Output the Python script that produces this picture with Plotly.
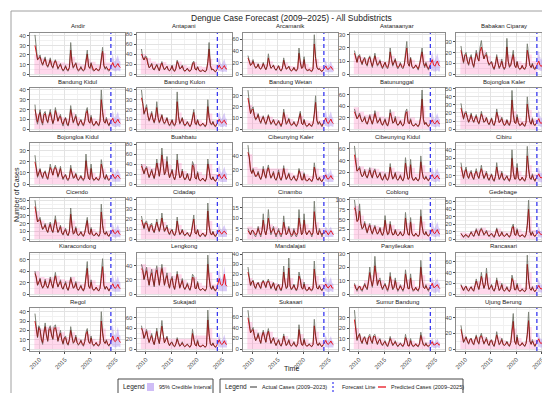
import numpy as np
import plotly.graph_objects as go

# ---------------- data ----------------
districts = ["Andir", "Antapani", "Arcamanik", "Astanaanyar", "Babakan Ciparay",
             "Bandung Kidul", "Bandung Kulon", "Bandung Wetan", "Batununggal", "Bojongloa Kaler",
             "Bojongloa Kidul", "Buahbatu", "Cibeunying Kaler", "Cibeunying Kidul", "Cibiru",
             "Cicendo", "Cidadap", "Cinambo", "Coblong", "Gedebage",
             "Kiaracondong", "Lengkong", "Mandalajati", "Panyileukan", "Rancasari",
             "Regol", "Sukajadi", "Sukasari", "Sumur Bandung", "Ujung Berung"]

# quarterly actual cases 2009Q1-2023Q4 (60), predicted 2009Q1-2025Q4 (68),
# yearly upper credible bound 2009-2023 (15), forecast interval 2024Q1-2025Q4 (8)
act_andir = [41,24,15,17, 20,13,9,14, 18,10,7,11, 17,9,6,12, 15,11,5,8, 11,6,3,5, 9,4,3,7, 33,13,6,9, 12,6,3,4, 8,4,3,5, 17,25,8,6, 12,5,3,4, 6,4,3,6, 18,28,9,5, 8,4,3,5]
pred_andir = [30,22,15,16, 18,13,10,13, 16,10,8,11, 15,9,7,11, 14,10,6,8, 10,6,4,5, 8,5,4,7, 25,13,7,9, 11,6,4,5, 7,5,4,5, 15,21,8,6, 11,6,4,4, 6,4,4,6, 16,24,9,6, 7,5,4,6, 9,12,8,7, 9,11,8,7]
band_andir = [20,17,15,14,14,12,11,18,12,10,16,13,10,22,12]
flo_andir = [3,4,3,3,3,4,3,3]
fhi_andir = [16,21,14,13,17,20,14,13]

act_antapani = [50,32,28,36, 35,20,12,15, 22,10,8,14, 20,12,6,18, 25,14,8,12, 16,8,6,10, 18,7,5,12, 28,20,10,12, 18,8,5,8, 12,6,5,9, 22,26,10,8, 15,7,5,6, 8,6,4,8, 25,63,18,8, 10,6,4,8]
pred_antapani = [40,32,28,33, 32,20,13,15, 20,11,9,14, 18,12,7,16, 22,14,9,12, 15,9,7,10, 16,8,6,11, 25,19,11,12, 16,9,6,8, 11,7,6,9, 20,23,10,8, 14,8,6,6, 8,6,5,8, 22,50,17,9, 10,7,5,8, 14,18,12,10, 13,17,11,10]
band_antapani = [40,32,25,22,24,18,18,25,18,15,24,16,14,30,18]
flo_antapani = [5,6,5,4,4,5,4,4]
fhi_antapani = [26,32,22,18,25,30,20,18]

act_arcamanik = [32,22,15,18, 25,15,10,12, 18,10,8,12, 20,12,7,14, 35,18,10,12, 16,9,6,10, 15,7,5,10, 28,16,8,10, 14,7,5,7, 12,6,5,10, 45,22,10,12, 30,10,6,6, 8,5,4,9, 68,30,12,8, 10,6,4,7]
pred_arcamanik = [28,22,15,17, 22,15,11,12, 17,10,9,12, 18,12,8,13, 28,17,10,12, 15,9,7,10, 14,8,6,10, 24,15,9,10, 13,8,6,7, 11,7,6,10, 36,20,10,11, 25,10,7,6, 8,6,5,9, 52,27,12,8, 9,6,5,7, 12,14,9,8, 11,13,9,7]
band_arcamanik = [24,20,18,18,22,15,14,20,14,13,22,18,12,26,14]
flo_arcamanik = [3,4,3,3,3,4,3,3]
fhi_arcamanik = [20,24,16,14,18,22,15,13]

act_astanaanyar = [18,12,9,14, 15,10,7,11, 13,8,6,12, 14,9,5,10, 16,10,6,8, 11,6,4,7, 9,5,4,8, 20,12,6,9, 12,6,4,6, 9,5,4,7, 15,25,8,6, 13,6,4,5, 7,5,3,7, 14,20,9,5, 9,5,3,6]
pred_astanaanyar = [16,12,9,13, 14,10,8,11, 12,8,7,11, 13,9,6,10, 14,10,7,8, 10,7,5,7, 9,6,5,8, 17,11,7,9, 11,7,5,6, 8,6,5,7, 14,20,8,6, 12,6,5,5, 7,5,4,7, 13,17,9,6, 8,5,4,6, 9,11,7,6, 8,10,7,6]
band_astanaanyar = [14,13,12,12,13,10,9,14,10,8,16,11,8,15,10]
flo_astanaanyar = [2,3,2,2,2,3,2,2]
fhi_astanaanyar = [14,17,12,10,13,16,11,10]

act_babakan_ciparay = [26,15,10,18, 20,12,8,15, 18,10,6,14, 22,15,12,25, 31,20,14,18, 20,12,8,10, 12,6,4,9, 18,10,5,8, 14,6,4,7, 33,12,6,8, 15,22,8,6, 12,6,4,5, 8,5,4,7, 28,16,8,6, 10,5,4,7]
pred_babakan_ciparay = [22,15,11,17, 18,12,9,14, 16,10,7,13, 19,15,12,21, 25,19,14,17, 18,12,9,10, 11,7,5,9, 16,10,6,8, 12,7,5,7, 25,12,7,8, 14,18,8,6, 11,6,5,5, 8,5,5,7, 22,15,8,6, 9,6,5,7, 10,12,8,7, 9,11,8,6]
band_babakan_ciparay = [18,16,15,20,22,17,11,14,11,18,16,12,10,18,12]
flo_babakan_ciparay = [3,4,3,3,3,4,3,3]
fhi_babakan_ciparay = [17,22,15,13,18,21,14,13]

act_bandung_kidul = [25,10,5,15, 20,8,4,16, 18,10,6,14, 20,12,5,10, 22,15,8,12, 15,7,3,9, 12,5,3,10, 24,14,6,10, 15,6,3,7, 10,5,3,8, 18,22,8,6, 14,6,3,5, 8,5,3,8, 40,18,8,6, 12,6,3,7]
pred_bandung_kidul = [20,11,7,14, 17,9,6,14, 16,10,7,13, 17,11,6,10, 19,14,8,12, 13,7,5,9, 11,6,4,9, 20,13,7,10, 13,7,4,7, 9,6,4,8, 16,19,8,6, 12,6,4,5, 8,5,4,8, 30,17,8,6, 10,6,4,7, 9,11,7,6, 8,10,7,6]
band_bandung_kidul = [16,15,15,15,17,12,11,17,12,9,16,11,9,20,11]
flo_bandung_kidul = [2,3,2,2,2,3,2,2]
fhi_bandung_kidul = [15,19,13,11,15,18,12,11]

act_bandung_kulon = [40,28,15,20, 25,14,8,12, 18,10,6,12, 28,12,6,10, 15,8,5,8, 12,6,3,6, 10,4,3,7, 38,14,5,8, 12,5,3,5, 8,4,2,5, 15,20,6,4, 10,4,3,4, 6,4,2,5, 30,12,6,4, 8,4,2,5]
pred_bandung_kulon = [32,26,16,19, 22,14,9,12, 16,10,7,12, 22,12,7,10, 14,8,6,8, 11,6,4,6, 9,5,4,7, 28,13,6,8, 11,6,4,5, 7,5,3,5, 13,17,6,5, 9,5,4,4, 6,4,3,5, 23,12,6,5, 7,4,3,5, 8,10,7,6, 8,9,6,5]
band_bandung_kulon = [22,17,14,16,12,10,9,17,10,8,14,9,7,16,9]
flo_bandung_kulon = [2,3,2,2,2,3,2,2]
fhi_bandung_kulon = [14,18,12,10,14,17,11,10]

act_bandung_wetan = [35,22,14,18, 20,12,8,10, 14,8,5,9, 12,7,4,8, 13,8,4,6, 9,5,3,5, 8,4,2,6, 18,10,4,6, 10,5,3,4, 7,4,2,5, 12,16,5,4, 9,4,2,3, 5,3,2,5, 14,30,8,4, 7,4,2,5]
pred_bandung_wetan = [28,21,14,17, 18,12,9,10, 13,8,6,9, 11,7,5,8, 12,8,5,6, 8,5,4,5, 7,5,3,6, 15,10,5,6, 9,5,4,4, 6,4,3,5, 11,14,5,4, 8,4,3,3, 5,3,3,5, 13,24,8,5, 6,4,3,5, 8,10,6,5, 7,9,6,5]
band_bandung_wetan = [22,15,12,11,11,9,8,13,9,7,12,8,7,16,8]
flo_bandung_wetan = [2,3,2,2,2,3,2,2]
fhi_bandung_wetan = [13,17,11,10,13,16,11,9]

act_batununggal = [35,25,18,22, 28,18,12,15, 22,12,8,16, 25,15,8,18, 32,20,10,14, 20,10,6,12, 18,8,5,14, 34,22,10,12, 22,10,6,9, 15,7,5,10, 30,35,12,9, 18,8,5,6, 10,6,4,9, 25,68,18,8, 12,6,4,8]
pred_batununggal = [30,25,18,21, 25,18,13,15, 20,12,9,15, 22,15,9,17, 27,19,11,14, 18,10,7,12, 16,9,6,13, 28,21,11,12, 19,10,7,9, 14,8,6,10, 26,30,12,9, 16,8,6,6, 9,6,5,9, 22,52,17,8, 11,7,5,8, 13,16,11,9, 12,15,10,9]
band_batununggal = [38,30,25,26,30,22,20,30,22,18,32,20,15,40,20]
flo_batununggal = [4,5,4,3,3,5,4,3]
fhi_batununggal = [24,30,20,17,23,28,19,17]

act_bojongloa_kaler = [32,18,12,20, 22,14,8,12, 20,12,8,14, 18,10,6,12, 22,14,8,10, 15,8,5,9, 14,6,4,10, 25,16,8,10, 15,7,4,6, 12,6,4,10, 48,20,8,7, 18,8,4,5, 8,5,3,8, 40,20,9,6, 14,6,4,7]
pred_bojongloa_kaler = [26,18,13,19, 20,14,9,12, 18,12,9,13, 16,10,7,12, 19,14,9,10, 14,8,6,9, 13,7,5,10, 21,15,8,10, 13,8,5,6, 11,7,5,10, 36,18,8,7, 15,8,5,5, 8,5,4,8, 31,18,9,6, 12,6,5,7, 10,13,8,7, 9,12,8,7]
band_bojongloa_kaler = [22,18,16,15,17,12,11,17,12,11,22,14,10,24,13]
flo_bojongloa_kaler = [3,4,3,3,3,4,3,3]
fhi_bojongloa_kaler = [18,24,16,13,17,22,15,13]

act_bojongloa_kidul = [26,12,6,10, 14,8,5,10, 12,6,4,10, 18,12,8,14, 17,12,6,10, 16,8,4,7, 9,4,3,6, 17,10,5,6, 10,5,3,5, 8,4,3,6, 27,12,5,4, 18,6,3,4, 6,4,3,6, 22,14,6,4, 9,4,3,5]
pred_bojongloa_kidul = [20,12,7,10, 13,8,6,10, 11,7,5,10, 15,12,8,13, 15,12,7,10, 14,8,5,7, 8,5,4,6, 14,10,6,6, 9,5,4,5, 7,5,4,6, 21,11,5,4, 14,6,4,4, 6,4,4,6, 18,13,6,5, 8,5,4,5, 7,9,6,5, 7,8,6,5]
band_bojongloa_kidul = [14,11,10,14,14,11,8,12,8,7,14,10,7,14,8]
flo_bojongloa_kidul = [2,2,2,2,2,2,2,2]
fhi_bojongloa_kidul = [12,15,10,9,12,14,10,9]

act_buahbatu = [40,28,20,30, 35,22,12,20, 30,18,10,25, 50,30,15,35, 72,40,18,25, 55,25,12,20, 30,15,8,18, 60,30,12,15, 30,14,8,12, 22,10,6,14, 45,38,12,10, 25,10,6,8, 12,8,5,12, 50,30,12,8, 15,8,5,10]
pred_buahbatu = [36,28,21,29, 32,22,14,20, 27,18,12,24, 42,30,16,32, 58,38,19,25, 45,24,13,20, 27,15,9,18, 48,28,13,15, 26,14,9,12, 20,11,7,14, 38,33,12,10, 22,10,7,8, 12,8,6,12, 40,28,12,9, 14,8,6,10, 16,20,13,11, 15,19,12,10]
band_buahbatu = [40,35,32,42,50,38,28,42,26,22,40,24,18,40,20]
flo_buahbatu = [4,6,4,4,4,5,4,4]
fhi_buahbatu = [30,38,25,22,28,35,24,21]

act_cibeunying_kaler = [55,40,20,15, 22,14,10,12, 18,10,6,12, 25,14,8,20, 27,15,8,12, 18,8,5,10, 20,8,5,12, 26,14,6,10, 16,7,5,8, 12,6,4,9, 22,15,6,6, 16,6,4,5, 8,5,3,8, 30,16,7,5, 10,5,3,7]
pred_cibeunying_kaler = [45,38,20,15, 20,14,11,12, 16,10,7,12, 21,14,9,18, 23,15,9,12, 16,8,6,10, 17,9,6,11, 22,14,7,10, 14,8,6,8, 11,7,5,9, 19,14,6,6, 14,6,5,5, 8,5,4,8, 24,15,7,6, 9,5,4,7, 10,13,8,7, 9,12,8,7]
band_cibeunying_kaler = [42,24,22,22,22,22,22,22,16,13,18,14,11,22,12]
flo_cibeunying_kaler = [3,4,3,3,3,4,3,3]
fhi_cibeunying_kaler = [18,23,15,13,17,21,14,13]

act_cibeunying_kidul = [65,40,22,25, 30,18,12,15, 25,14,10,18, 28,16,10,22, 26,16,10,14, 20,10,6,12, 18,8,6,12, 35,18,8,12, 20,9,6,10, 16,8,5,12, 45,20,8,10, 42,12,6,7, 12,7,5,10, 48,22,10,8, 14,8,5,10]
pred_cibeunying_kidul = [50,38,22,24, 27,18,13,15, 22,14,11,17, 24,16,11,20, 23,16,11,14, 18,10,7,12, 16,9,7,12, 29,17,9,12, 18,9,7,10, 14,8,6,12, 36,19,8,10, 33,12,7,7, 11,7,6,10, 38,21,10,8, 12,8,6,10, 13,16,11,9, 12,15,10,9]
band_cibeunying_kidul = [45,30,26,28,26,22,20,28,22,20,30,28,18,32,20]
flo_cibeunying_kidul = [4,5,4,3,3,5,4,3]
fhi_cibeunying_kidul = [24,30,20,17,23,28,19,17]

act_cibiru = [25,12,6,15, 20,10,6,12, 16,8,5,12, 18,10,6,14, 22,12,6,10, 15,7,4,8, 12,5,3,9, 25,12,5,8, 15,6,4,7, 10,5,3,8, 40,15,6,6, 24,7,4,5, 8,5,3,8, 44,18,7,5, 12,6,3,7]
pred_cibiru = [20,12,7,14, 17,10,7,12, 14,8,6,12, 15,10,7,13, 18,12,7,10, 13,7,5,8, 11,6,4,9, 20,12,6,8, 13,7,5,7, 9,6,4,8, 30,14,6,6, 19,7,5,5, 8,5,4,8, 33,17,7,6, 10,6,4,7, 9,12,8,7, 9,11,7,6]
band_cibiru = [16,15,13,14,16,12,10,16,12,10,20,15,10,22,12]
flo_cibiru = [2,3,2,2,2,3,2,2]
fhi_cibiru = [16,20,14,12,15,19,13,12]

act_cicendo = [50,35,22,25, 28,18,12,15, 20,12,8,16, 22,12,8,18, 30,16,8,12, 18,8,5,10, 14,6,4,10, 40,18,6,8, 16,7,4,6, 10,5,3,8, 22,28,8,6, 15,6,4,5, 8,5,3,7, 45,18,8,6, 10,5,3,7]
pred_cicendo = [42,33,22,24, 25,18,13,15, 18,12,9,15, 19,12,9,17, 25,16,9,12, 16,8,6,10, 12,7,5,10, 32,17,7,8, 14,7,5,6, 9,6,4,8, 19,24,8,6, 13,6,5,5, 8,5,4,7, 35,17,8,6, 9,5,4,7, 9,12,8,7, 9,11,7,6]
band_cicendo = [36,24,20,20,22,16,13,24,14,10,20,13,9,26,11]
flo_cicendo = [2,3,2,2,2,3,2,2]
fhi_cicendo = [16,20,14,12,15,19,13,12]

act_cidadap = [23,15,10,17, 18,12,7,14, 16,9,6,12, 20,12,7,14, 26,14,7,10, 14,7,4,8, 10,5,3,7, 22,10,4,6, 10,5,3,5, 7,4,2,6, 14,24,6,5, 10,4,2,4, 6,4,2,5, 36,14,6,4, 8,4,2,5]
pred_cidadap = [19,15,11,16, 16,12,8,13, 14,9,7,12, 17,12,8,13, 21,14,8,10, 12,7,5,8, 9,5,4,7, 18,10,5,6, 9,5,4,5, 6,4,3,6, 12,20,6,5, 9,4,3,4, 6,4,3,5, 28,13,6,4, 7,4,3,5, 7,9,6,5, 7,8,6,5]
band_cidadap = [16,15,13,15,17,11,8,14,9,7,14,9,7,18,8]
flo_cidadap = [2,2,2,2,2,2,2,2]
fhi_cidadap = [12,15,10,9,12,14,10,9]

act_cinambo = [5,3,2,4, 4,2,1,3, 6,3,1,4, 12,4,2,5, 14,6,2,4, 6,3,1,3, 5,2,1,3, 11,5,2,3, 6,3,1,2, 5,2,1,3, 14,6,2,3, 12,4,2,3, 4,3,1,3, 18,8,3,2, 5,3,1,3]
pred_cinambo = [4,3,2,4, 4,3,2,3, 5,3,2,4, 9,4,2,5, 10,6,3,4, 5,3,2,3, 4,3,2,3, 8,5,2,3, 5,3,2,2, 4,3,2,3, 10,6,2,3, 9,4,2,3, 4,3,2,3, 13,7,3,2, 4,3,2,3, 3,4,3,2, 3,4,3,2]
band_cinambo = [6,5,6,7,7,6,5,6,5,5,7,7,5,8,5]
flo_cinambo = [1,1,1,1,1,1,1,1]
fhi_cinambo = [5,6,5,4,5,6,4,4]

act_coblong = [100,75,45,50, 90,40,25,30, 45,25,15,30, 40,22,12,25, 35,20,12,18, 30,15,8,20, 60,25,10,15, 45,20,10,12, 25,12,8,12, 20,10,8,15, 68,30,12,10, 55,15,8,8, 15,10,6,12, 75,35,15,10, 20,10,7,12]
pred_coblong = [80,70,45,48, 72,40,27,30, 40,25,17,28, 35,22,14,24, 31,20,13,18, 27,15,10,19, 48,24,12,15, 38,20,11,12, 22,12,9,12, 18,11,9,15, 54,28,12,10, 44,15,9,8, 15,10,7,12, 58,32,15,11, 18,10,8,12, 20,25,16,14, 19,24,15,13]
band_coblong = [85,60,40,36,34,30,40,36,26,22,42,40,20,45,24]
flo_coblong = [6,8,6,5,5,7,5,5]
fhi_coblong = [38,48,32,27,36,44,30,26]

act_gedebage = [8,4,2,5, 6,3,2,6, 10,6,3,8, 14,8,4,12, 15,10,5,8, 12,6,3,6, 8,4,2,7, 15,8,3,5, 10,5,3,5, 8,4,2,6, 16,20,6,5, 14,6,3,4, 6,4,2,6, 20,52,10,5, 10,5,3,6]
pred_gedebage = [7,4,3,5, 6,4,3,6, 9,6,4,8, 12,8,5,11, 13,10,6,8, 10,6,4,6, 7,5,3,7, 13,8,4,5, 9,5,4,5, 7,5,3,6, 14,17,6,5, 12,6,4,4, 6,4,3,6, 18,40,10,5, 9,5,4,6, 8,10,7,6, 7,9,6,6]
band_gedebage = [9,8,11,14,15,12,9,14,10,9,16,13,9,30,12]
flo_gedebage = [2,2,2,2,2,2,2,2]
fhi_gedebage = [13,17,11,10,13,16,11,10]

act_kiaracondong = [40,30,15,20, 28,16,10,14, 26,15,10,18, 30,18,10,24, 38,22,12,18, 25,12,8,15, 22,10,6,15, 30,20,10,12, 22,10,6,10, 16,8,5,12, 35,57,14,10, 25,10,6,8, 12,7,5,10, 30,62,16,8, 14,8,5,10]
pred_kiaracondong = [36,30,16,20, 26,16,11,14, 23,15,11,17, 26,18,11,22, 32,21,13,18, 22,12,9,15, 19,11,7,14, 27,19,11,12, 19,10,7,10, 14,9,6,12, 30,45,14,10, 21,10,7,8, 12,7,6,10, 27,48,15,9, 13,8,6,10, 14,18,12,10, 13,17,11,10]
band_kiaracondong = [40,30,28,30,32,26,24,30,22,18,34,24,16,36,20]
flo_kiaracondong = [4,5,4,4,4,5,4,4]
fhi_kiaracondong = [28,34,24,20,26,32,22,20]

act_lengkong = [42,35,20,28, 38,22,12,25, 35,20,10,30, 40,25,12,28, 42,28,12,22, 30,15,8,20, 25,12,6,18, 32,20,8,14, 22,10,6,10, 16,8,5,12, 28,25,8,8, 18,8,5,6, 8,6,4,8, 55,25,10,6, 12,6,4,8]
pred_lengkong = [36,33,21,27, 33,22,13,24, 30,20,12,27, 34,24,13,26, 36,26,13,21, 26,15,9,19, 22,12,7,17, 28,19,9,14, 19,10,7,10, 14,9,6,12, 24,22,8,8, 16,8,6,6, 8,6,5,8, 42,23,10,7, 11,7,5,8, 16,22,14,12, 15,28,13,11]
band_lengkong = [42,38,36,38,38,30,26,28,20,16,24,16,12,30,14]
flo_lengkong = [4,5,4,4,4,5,4,4]
fhi_lengkong = [28,36,24,20,26,40,22,20]

act_mandalajati = [27,15,8,12, 14,8,5,10, 12,8,5,12, 14,10,6,12, 15,10,5,8, 12,6,3,8, 10,5,3,8, 28,12,5,7, 36,8,4,6, 10,5,3,7, 22,16,6,5, 12,5,3,4, 7,4,3,6, 33,14,6,5, 9,5,3,6]
pred_mandalajati = [22,15,9,12, 13,8,6,10, 11,8,6,11, 13,10,7,12, 13,10,6,8, 11,6,4,8, 9,6,4,8, 22,12,6,7, 26,8,5,6, 9,6,4,7, 18,14,6,5, 10,5,4,4, 7,4,4,6, 25,13,6,5, 8,5,4,6, 8,10,7,6, 8,9,6,6]
band_mandalajati = [16,12,12,13,13,11,10,16,16,9,15,10,8,18,10]
flo_mandalajati = [2,3,2,2,2,3,2,2]
fhi_mandalajati = [14,18,12,10,14,17,11,10]

act_panyileukan = [8,4,2,5, 6,3,2,5, 8,5,3,10, 20,10,5,12, 28,15,6,10, 12,6,3,6, 8,4,2,6, 16,8,3,5, 12,5,2,4, 7,4,2,5, 18,10,4,4, 15,5,2,3, 5,3,2,5, 25,12,5,4, 7,4,2,5]
pred_panyileukan = [7,4,3,5, 6,4,3,5, 7,5,4,9, 16,10,6,11, 21,14,7,10, 10,6,4,6, 7,5,3,6, 13,8,4,5, 10,5,3,4, 6,4,3,5, 15,9,4,4, 12,5,3,3, 5,3,3,5, 20,11,5,4, 6,4,3,5, 6,8,5,5, 6,7,5,4]
band_panyileukan = [7,6,10,14,16,10,7,11,9,7,11,10,6,14,8]
flo_panyileukan = [1,2,1,1,1,2,1,1]
fhi_panyileukan = [10,13,9,8,10,12,8,8]

act_rancasari = [18,10,6,12, 15,8,5,10, 14,8,5,16, 28,16,8,20, 40,22,10,18, 48,20,8,12, 18,8,5,12, 30,16,6,10, 20,8,5,8, 14,7,4,10, 35,25,8,8, 20,8,5,6, 10,6,4,8, 72,28,10,7, 14,7,4,8]
pred_rancasari = [16,10,7,12, 14,8,6,10, 13,8,6,15, 24,16,9,19, 33,21,11,18, 38,19,9,12, 16,9,6,12, 26,16,7,10, 17,8,6,8, 12,7,5,10, 29,22,8,8, 17,8,6,6, 9,6,5,8, 55,25,10,7, 12,7,5,8, 13,16,11,9, 12,15,10,9]
band_rancasari = [16,14,16,24,30,30,16,24,18,14,26,18,12,40,16]
flo_rancasari = [3,4,3,3,3,4,3,3]
fhi_rancasari = [22,28,19,16,21,26,18,16]

act_regol = [38,20,12,25, 22,10,5,18, 28,15,8,22, 25,15,10,24, 26,18,8,14, 20,10,5,12, 14,6,4,10, 24,14,6,8, 15,7,4,6, 10,5,3,8, 18,22,8,6, 14,6,3,5, 7,4,3,6, 40,18,8,6, 10,5,3,6]
pred_regol = [30,20,13,23, 20,11,7,17, 24,15,9,21, 22,15,11,22, 23,17,9,14, 17,10,6,12, 12,7,5,10, 20,13,7,8, 13,7,5,6, 9,6,4,8, 16,19,8,6, 12,6,4,5, 7,4,4,6, 30,17,8,6, 9,5,4,6, 10,14,9,8, 10,13,9,7]
band_regol = [24,22,24,24,24,18,13,18,12,10,16,11,9,22,11]
flo_regol = [2,3,2,2,2,3,2,2]
fhi_regol = [18,26,16,14,18,24,15,14]

act_sukajadi = [45,35,20,28, 38,22,12,20, 30,15,8,22, 40,20,10,30, 55,28,12,18, 25,12,6,12, 14,6,4,10, 22,12,5,8, 14,6,4,7, 10,5,3,8, 38,20,8,6, 18,6,4,5, 8,5,3,7, 75,30,10,6, 12,6,3,7]
pred_sukajadi = [40,34,21,27, 34,22,13,20, 26,15,9,21, 34,20,11,27, 44,27,12,18, 22,12,7,12, 12,7,5,10, 19,12,6,8, 12,7,5,7, 9,6,4,8, 30,18,8,6, 15,6,5,5, 8,5,4,7, 56,27,10,7, 11,6,4,7, 12,18,11,9, 11,16,10,9]
band_sukajadi = [40,36,22,22,22,20,20,20,20,20,26,26,26,40,20]
flo_sukajadi = [3,4,3,3,3,4,3,3]
fhi_sukajadi = [22,30,18,16,21,28,18,16]

act_sukasari = [72,50,30,35, 40,25,15,20, 30,18,10,25, 35,22,12,28, 38,22,10,16, 22,12,6,12, 18,8,5,12, 28,16,6,10, 18,8,5,8, 14,6,4,10, 45,22,8,7, 20,8,5,6, 10,6,4,8, 55,25,10,6, 12,6,4,8]
pred_sukasari = [58,46,30,34, 36,25,16,20, 27,18,11,24, 31,22,13,26, 33,22,11,16, 20,12,7,12, 16,9,6,12, 24,15,7,10, 16,8,6,8, 12,7,5,10, 36,20,8,7, 17,8,6,6, 9,6,5,8, 43,23,10,7, 11,7,5,8, 12,16,10,9, 11,15,10,8]
band_sukasari = [50,36,30,32,32,22,18,24,18,14,28,18,12,32,16]
flo_sukasari = [3,4,3,3,3,4,3,3]
fhi_sukasari = [20,26,17,15,19,24,16,14]

act_sumur_bandung = [37,18,8,12, 15,8,5,10, 12,7,4,12, 14,8,5,13, 14,8,4,8, 10,5,3,6, 8,4,2,6, 12,7,3,5, 8,4,2,4, 6,3,2,5, 14,8,3,3, 10,4,2,3, 5,3,2,5, 16,9,4,3, 6,3,2,4]
pred_sumur_bandung = [28,18,9,12, 14,8,6,10, 11,7,5,11, 12,8,6,12, 12,8,5,8, 9,5,4,6, 7,4,3,6, 10,7,4,5, 7,4,3,4, 5,4,3,5, 11,8,3,3, 8,4,3,3, 5,3,3,5, 13,8,4,3, 5,3,3,4, 5,7,4,4, 5,6,4,4]
band_sumur_bandung = [20,12,11,12,12,9,7,10,7,6,10,8,6,12,7]
flo_sumur_bandung = [1,2,1,1,1,2,1,1]
fhi_sumur_bandung = [8,11,7,6,8,10,7,6]

act_ujung_berung = [30,15,8,12, 16,10,6,12, 14,8,5,12, 18,10,6,16, 20,12,6,10, 15,7,4,10, 12,6,3,10, 22,12,5,8, 14,6,4,6, 10,5,3,8, 30,45,10,6, 18,6,4,5, 8,5,3,7, 20,47,10,6, 12,6,3,7]
pred_ujung_berung = [25,15,9,12, 15,10,7,12, 13,8,6,12, 16,10,7,15, 17,12,7,10, 13,7,5,10, 11,6,4,10, 18,12,6,8, 12,6,5,6, 9,6,4,8, 26,35,10,6, 15,6,5,5, 8,5,4,7, 18,36,10,6, 10,6,4,7, 10,13,8,7, 9,12,8,7]
band_ujung_berung = [18,14,13,15,16,12,11,16,11,9,26,14,9,28,12]
flo_ujung_berung = [2,3,2,2,2,3,2,2]
fhi_ujung_berung = [16,21,14,12,16,20,13,12]

x_tick_labels = ["2010", "2015", "2020", "2025"]

actual = [act_andir, act_antapani, act_arcamanik, act_astanaanyar, act_babakan_ciparay,
          act_bandung_kidul, act_bandung_kulon, act_bandung_wetan, act_batununggal, act_bojongloa_kaler,
          act_bojongloa_kidul, act_buahbatu, act_cibeunying_kaler, act_cibeunying_kidul, act_cibiru,
          act_cicendo, act_cidadap, act_cinambo, act_coblong, act_gedebage,
          act_kiaracondong, act_lengkong, act_mandalajati, act_panyileukan, act_rancasari,
          act_regol, act_sukajadi, act_sukasari, act_sumur_bandung, act_ujung_berung]
predicted = [pred_andir, pred_antapani, pred_arcamanik, pred_astanaanyar, pred_babakan_ciparay,
             pred_bandung_kidul, pred_bandung_kulon, pred_bandung_wetan, pred_batununggal, pred_bojongloa_kaler,
             pred_bojongloa_kidul, pred_buahbatu, pred_cibeunying_kaler, pred_cibeunying_kidul, pred_cibiru,
             pred_cicendo, pred_cidadap, pred_cinambo, pred_coblong, pred_gedebage,
             pred_kiaracondong, pred_lengkong, pred_mandalajati, pred_panyileukan, pred_rancasari,
             pred_regol, pred_sukajadi, pred_sukasari, pred_sumur_bandung, pred_ujung_berung]
bands = [band_andir, band_antapani, band_arcamanik, band_astanaanyar, band_babakan_ciparay,
         band_bandung_kidul, band_bandung_kulon, band_bandung_wetan, band_batununggal, band_bojongloa_kaler,
         band_bojongloa_kidul, band_buahbatu, band_cibeunying_kaler, band_cibeunying_kidul, band_cibiru,
         band_cicendo, band_cidadap, band_cinambo, band_coblong, band_gedebage,
         band_kiaracondong, band_lengkong, band_mandalajati, band_panyileukan, band_rancasari,
         band_regol, band_sukajadi, band_sukasari, band_sumur_bandung, band_ujung_berung]
fc_low = [flo_andir, flo_antapani, flo_arcamanik, flo_astanaanyar, flo_babakan_ciparay,
          flo_bandung_kidul, flo_bandung_kulon, flo_bandung_wetan, flo_batununggal, flo_bojongloa_kaler,
          flo_bojongloa_kidul, flo_buahbatu, flo_cibeunying_kaler, flo_cibeunying_kidul, flo_cibiru,
          flo_cicendo, flo_cidadap, flo_cinambo, flo_coblong, flo_gedebage,
          flo_kiaracondong, flo_lengkong, flo_mandalajati, flo_panyileukan, flo_rancasari,
          flo_regol, flo_sukajadi, flo_sukasari, flo_sumur_bandung, flo_ujung_berung]
fc_high = [fhi_andir, fhi_antapani, fhi_arcamanik, fhi_astanaanyar, fhi_babakan_ciparay,
           fhi_bandung_kidul, fhi_bandung_kulon, fhi_bandung_wetan, fhi_batununggal, fhi_bojongloa_kaler,
           fhi_bojongloa_kidul, fhi_buahbatu, fhi_cibeunying_kaler, fhi_cibeunying_kidul, fhi_cibiru,
           fhi_cicendo, fhi_cidadap, fhi_cinambo, fhi_coblong, fhi_gedebage,
           fhi_kiaracondong, fhi_lengkong, fhi_mandalajati, fhi_panyileukan, fhi_rancasari,
           fhi_regol, fhi_sukajadi, fhi_sukasari, fhi_sumur_bandung, fhi_ujung_berung]

# axis layout (per panel): top of y range and tick step
y_top = [43, 82, 71, 31.5, 38, 42, 42, 37, 71.5, 51,
         37, 82, 58, 70, 48, 53, 41, 19.5, 105, 55,
         72, 58, 41, 30.5, 76, 44, 79, 76, 39, 52]
y_step = [10, 20, 20, 10, 10, 10, 10, 10, 20, 10,
          10, 20, 20, 20, 10, 10, 10, 5, 25, 10,
          20, 20, 10, 10, 20, 10, 20, 20, 10, 20]

for lst, n in [(actual, 60), (predicted, 68), (bands, 15), (fc_low, 8), (fc_high, 8)]:
    for i, s in enumerate(lst):
        assert len(s) == n, (districts[i], n, len(s))

# time coordinates (decimal years)
t_act = 2009 + (np.arange(60) + 0.5) / 4
t_pred = 2009 + (np.arange(68) + 0.5) / 4
t_band = np.arange(2009, 2025)
t_fc = 2024 + (np.arange(8) + 0.5) / 4

# ---------------- layout helpers ----------------
W_PX, H_PX = 550, 393
def fx(px):
    return px / W_PX
def fy(py):
    return 1 - py / H_PX

col_left = [22, 128.5, 235, 341.5, 448]
row_top = [25, 80, 135, 190, 245, 300]
PW, PH = 95, 43
FONT = "Liberation Sans, Arial, Helvetica, sans-serif"

fig = go.Figure()
layout = dict(width=W_PX, height=H_PX, margin=dict(l=0, r=0, t=0, b=0),
              paper_bgcolor="white", plot_bgcolor="white", showlegend=False,
              font=dict(family=FONT, color="#1a1a1a"), template="none")
shapes, annotations = [], []

for k, name in enumerate(districts):
    r, c = divmod(k, 5)
    n = k + 1
    xs = "x" if n == 1 else f"x{n}"
    ys = "y" if n == 1 else f"y{n}"
    band = list(bands[k]) + [bands[k][-1]]
    fig.add_trace(go.Scatter(x=t_band, y=band, xaxis=xs, yaxis=ys, mode="lines",
                             line=dict(width=0, shape="hv"), fill="tozeroy",
                             fillcolor="rgba(255,60,160,0.2)", hoverinfo="skip"))
    fig.add_trace(go.Scatter(x=t_fc, y=fc_low[k], xaxis=xs, yaxis=ys, mode="lines",
                             line=dict(width=0), hoverinfo="skip"))
    fig.add_trace(go.Scatter(x=t_fc, y=fc_high[k], xaxis=xs, yaxis=ys, mode="lines",
                             line=dict(width=0), fill="tonexty",
                             fillcolor="rgba(150,110,235,0.35)", hoverinfo="skip"))
    fig.add_trace(go.Scatter(x=t_pred, y=predicted[k], xaxis=xs, yaxis=ys, mode="lines",
                             line=dict(color="#e8141e", width=1.0)))
    fig.add_trace(go.Scatter(x=t_act, y=actual[k], xaxis=xs, yaxis=ys, mode="lines",
                             line=dict(color="#2a3320", width=1.0), opacity=0.6))

    x0, y0 = col_left[c], row_top[r]
    bottom = (r == 5)
    top = y_top[k]
    step = y_step[k]
    layout["xaxis" if n == 1 else f"xaxis{n}"] = dict(
        domain=[fx(x0), fx(x0 + PW)], anchor=ys, range=[2008.15, 2026.77],
        tickmode="array", tickvals=[2010, 2015, 2020, 2025], ticktext=x_tick_labels,
        showticklabels=bottom, tickangle=-45, ticks="outside" if bottom else "",
        ticklen=2, tickwidth=0.6, tickcolor="#4d4d4d",
        tickfont=dict(size=6, color="#4d4d4d"),
        showgrid=True, gridcolor="#e3e3e3", gridwidth=0.6,
        minor=dict(tickmode="array", tickvals=[2012.5, 2017.5, 2022.5], showgrid=True,
                   gridcolor="#f1f1f1", gridwidth=0.4),
        showline=True, mirror=True, linecolor="#8c8c8c", linewidth=0.8,
        zeroline=False, automargin=False, fixedrange=True)
    layout["yaxis" if n == 1 else f"yaxis{n}"] = dict(
        domain=[fy(y0 + PH), fy(y0)], anchor=xs, range=[-top * 0.05 / 1.05, top],
        tickmode="linear", tick0=0, dtick=step, ticks="outside", ticklen=2,
        tickwidth=0.6, tickcolor="#4d4d4d", tickfont=dict(size=6, color="#4d4d4d"),
        showgrid=True, gridcolor="#e3e3e3", gridwidth=0.6,
        minor=dict(tick0=step / 2, dtick=step, showgrid=True, gridcolor="#f1f1f1", gridwidth=0.4),
        showline=True, mirror=True, linecolor="#8c8c8c", linewidth=0.8,
        zeroline=False, automargin=False, fixedrange=True)
    # forecast start line
    shapes.append(dict(type="line", xref=xs, yref=f"{ys} domain", x0=2024, x1=2024, y0=0, y1=1,
                       line=dict(color="#3a3af0", width=1.3, dash="4px,3px"), layer="above"))
    # strip title
    annotations.append(dict(text=name, x=fx(x0 + PW / 2), y=fy(y0 - 6.5), xref="paper", yref="paper",
                            showarrow=False, font=dict(size=6, color="#1a1a1a"),
                            xanchor="center", yanchor="middle"))

# overall frame
shapes.append(dict(type="rect", xref="paper", yref="paper", x0=fx(3), x1=fx(547), y0=fy(390), y1=fy(3),
                   line=dict(color="#a0a0a0", width=1), layer="below"))
# title and axis titles
annotations.append(dict(text="Dengue Case Forecast (2009–2025) - All Subdistricts", x=fx(283), y=fy(10),
                        xref="paper", yref="paper", showarrow=False, font=dict(size=8.5, color="#1a1a1a"),
                        xanchor="center", yanchor="middle"))
annotations.append(dict(text="Number of Cases", x=fx(8), y=fy(187), xref="paper", yref="paper",
                        showarrow=False, textangle=-90, font=dict(size=7, color="#1a1a1a"),
                        xanchor="center", yanchor="middle"))
annotations.append(dict(text="Time", x=fx(283), y=fy(360), xref="paper", yref="paper",
                        showarrow=False, font=dict(size=7, color="#1a1a1a"),
                        xanchor="center", yanchor="middle"))

# legends (drawn as decoration boxes)
LY0, LY1 = 371, 387
LYM = (LY0 + LY1) / 2
shapes.append(dict(type="rect", xref="paper", yref="paper", x0=fx(110), x1=fx(205), y0=fy(LY1), y1=fy(LY0),
                   line=dict(color="#333333", width=0.9)))
shapes.append(dict(type="rect", xref="paper", yref="paper", x0=fx(139), x1=fx(146), y0=fy(LYM + 4), y1=fy(LYM - 4),
                   line=dict(width=0), fillcolor="rgba(175,145,240,0.6)"))
shapes.append(dict(type="rect", xref="paper", yref="paper", x0=fx(212), x1=fx(455), y0=fy(LY1), y1=fy(LY0),
                   line=dict(color="#333333", width=0.9)))
shapes.append(dict(type="line", xref="paper", yref="paper", x0=fx(242), x1=fx(249), y0=fy(LYM), y1=fy(LYM),
                   line=dict(color="#333333", width=1)))
shapes.append(dict(type="line", xref="paper", yref="paper", x0=fx(325), x1=fx(325), y0=fy(LYM + 5), y1=fy(LYM - 5),
                   line=dict(color="#3a3af0", width=1.2, dash="2px,2px")))
shapes.append(dict(type="line", xref="paper", yref="paper", x0=fx(370), x1=fx(378), y0=fy(LYM), y1=fy(LYM),
                   line=dict(color="#e8141e", width=1.3)))

def leg_text(txt, px, size=5.5):
    annotations.append(dict(text=txt, x=fx(px), y=fy(LYM), xref="paper", yref="paper", showarrow=False,
                            font=dict(size=size, color="#1a1a1a"), xanchor="left", yanchor="middle"))

leg_text("Legend", 113, 6.5)
leg_text("95% Credible Interval", 149)
leg_text("Legend", 215, 6.5)
leg_text("Actual Cases (2009–2023)", 252)
leg_text("Forecast Line", 332)
leg_text("Predicted Cases (2009–2025)", 381)

layout["shapes"] = shapes
layout["annotations"] = annotations
fig.update_layout(**layout)
fig.write_html("out.html")
